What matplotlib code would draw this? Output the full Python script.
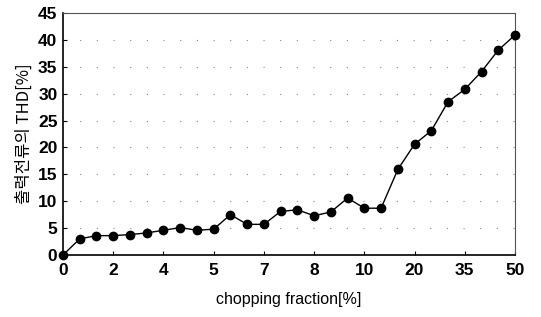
import numpy as np
import matplotlib.pyplot as plt

plt.rcParams['font.family'] = ['Liberation Sans', 'Noto Sans CJK KR', 'DejaVu Sans']

# THD of output current per chopping-fraction step (28 points, every 3rd labelled)
thd = [0.0, 3.0, 3.6, 3.6, 3.8, 4.1, 4.6, 5.1, 4.6, 4.8,
       7.5, 5.7, 5.7, 8.1, 8.4, 7.3, 8.0, 10.6, 8.7, 8.7,
       15.9, 20.6, 23.1, 28.5, 30.8, 34.1, 38.1, 40.9]
tick_labels = ['0', '2', '4', '5', '7', '8', '10', '20', '35', '50']
y_ticks = [0, 5, 10, 15, 20, 25, 30, 35, 40, 45]

fig = plt.figure(figsize=(5.41, 3.17), dpi=100)
ax = fig.add_axes([63 / 541, 1 - 255 / 317, (515 - 63) / 541, (255 - 13) / 317])

x = np.arange(len(thd))
ax.plot(x, thd, color='black', lw=1.0, marker='o', ms=6, mfc='black', mec='black',
        clip_on=False, zorder=3)

ax.set_xlim(0, len(thd) - 1)
ax.set_ylim(0, 45)
ax.set_xticks(x[::3])
ax.set_xticklabels(tick_labels)
ax.set_xticks(x, minor=True)
ax.set_yticks(y_ticks)

for lbl in ax.get_xticklabels() + ax.get_yticklabels():
    lbl.set_fontweight('bold')
    lbl.set_fontsize(12.5)

ax.tick_params(axis='both', which='major', length=3, width=0.8, direction='in', pad=6)
ax.tick_params(axis='x', which='minor', length=0)
ax.tick_params(axis='y', pad=4)

ax.yaxis.grid(True, color='#888888', lw=0.8, linestyle=(0, (1, 14)))
ax.set_axisbelow(True)

ax.spines['left'].set_linewidth(1.2)
ax.spines['bottom'].set_linewidth(1.2)
for s in ['top', 'right']:
    ax.spines[s].set_linestyle((0, (1, 1)))
    ax.spines[s].set_color('#555555')
    ax.spines[s].set_linewidth(0.8)

ax.set_xlabel('chopping fraction[%]', fontsize=11.5, labelpad=10)
ax.set_ylabel('출력전류의 THD[%]', fontsize=12, labelpad=4,
              family=['Noto Sans CJK KR', 'DejaVu Sans'])

fig.savefig('out.png', dpi=100)
